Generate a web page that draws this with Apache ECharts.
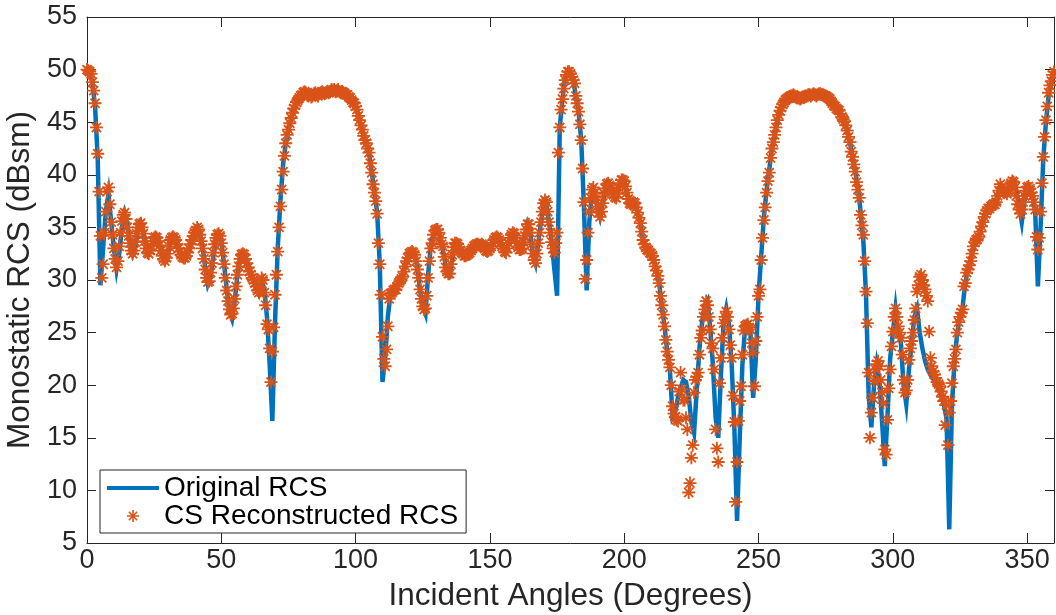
<!DOCTYPE html>
<html>
<head>
<meta charset="utf-8">
<script src="https://cdn.jsdelivr.net/npm/echarts@6/dist/echarts.min.js"></script>
<style>
html,body{margin:0;padding:0;background:#fff;}
#chart{width:1056px;height:615px;}
</style>
</head>
<body>
<div id="chart"></div>
<script>
// ---- data ----
const ORIGINAL_START = 0;     // degrees
const ORIGINAL_STEP = 1;      // degrees between samples of the original RCS
const originalRCS = [
  50, 49.8, 48.8, 46.5, 41.5, 29.5, 33, 36.5, 38.2, 35.5,
  33, 31, 32.5, 35, 36.3, 35.3, 33.5, 32.5, 33.3, 34.8,
  35.4, 34.5, 33.2, 32.5, 33, 33.8, 34.1, 33.5, 32.5, 31.8,
  32.3, 33.5, 34.1, 33.8, 33, 32.5, 32.1, 32.2, 32.8, 33.6,
  34.3, 34.8, 34.4, 33.2, 31.2, 29.6, 30.3, 32.2, 33.8, 34.3,
  33.6, 31.6, 29.2, 27, 26.3, 28, 30.5, 32, 32.5, 32.1,
  31.3, 30.6, 30.1, 29.6, 28.8, 29.8, 29.2, 26.5, 22, 16.6,
  26, 33, 37.5, 41, 43, 44.3, 45.3, 46.2, 46.8, 47.3,
  47.6, 47.8, 47.7, 47.6, 47.5, 47.7, 47.6, 47.8, 47.9, 47.8,
  47.9, 48, 48, 48, 47.9, 47.8, 47.8, 47.6, 47.3, 46.9,
  46.6, 45.6, 44.6, 43.7, 42.9, 42, 40.3, 38.3, 36.5, 31.5,
  20.3, 22.5, 26.5, 28.7, 29, 29.2, 29.7, 30.2, 31, 32,
  32.5, 32.7, 32.4, 31.2, 29, 27.5, 26.8, 30.5, 33.3, 34.3,
  34.8, 34.5, 33.4, 32.2, 30.5, 30.4, 32, 33.5, 33.4, 32.8,
  32.4, 32.3, 32.5, 32.8, 33.2, 33.4, 33.3, 33.3, 33, 32.7,
  33, 33.5, 34, 34, 33.5, 33, 32.7, 33.5, 34.3, 34.4,
  33.5, 32.9, 33, 34.2, 35.3, 34.5, 32.5, 31.6, 33.5, 35.5,
  37.3, 37.4, 35.5, 33.6, 31, 28.5, 44.5, 47.2, 49.2, 49.8,
  49.6, 49, 47.5, 46, 43.3, 37, 29, 35.5, 38.5, 38.3,
  37, 36, 37.3, 38.7, 39.2, 38.7, 38.1, 37.8, 38.8, 39.5,
  39.4, 38.3, 37.3, 37.3, 37.3, 36.4, 35.4, 33.8, 33.1, 32.8,
  32.5, 31.9, 30.9, 29.7, 27.6, 25.6, 23.2, 21.5, 17, 17.5,
  18.8, 19.8, 20.5, 20.3, 19, 16.5, 15.5, 19.5, 23.5, 26,
  27.5, 28, 25.5, 22, 17, 15, 21, 26, 27.3, 25.8,
  22, 16, 7.1, 15, 22, 25.5, 25.8, 25, 18.8, 22.5,
  28.5, 32.3, 36, 38.5, 40.5, 42.5, 43.8, 45.1, 46.1, 46.7,
  47.1, 47.3, 47.5, 47.6, 47.4, 47.3, 47.3, 47.4, 47.5, 47.6,
  47.6, 47.6, 47.6, 47.7, 47.6, 47.5, 47.3, 47, 46.6, 46.3,
  46.1, 45.5, 45.1, 44.2, 43.1, 41.7, 40.3, 38.8, 36.5, 33.8,
  28.7, 19, 16, 20, 22, 20.5, 16.5, 12.3, 17, 22.5,
  25, 27.3, 25, 24, 20, 18.2, 21.5, 24, 26.5, 27.3,
  25, 23.5, 22.3, 21.5, 21, 20.6, 20.2, 19.6, 19, 18.2,
  16.8, 6.3, 18, 22.5, 25, 26.5, 27.5, 29.8, 31, 32,
  33.2, 33.8, 34.1, 35.1, 36, 36.6, 36.8, 37.1, 37.2, 38,
  38.8, 38.5, 38.3, 38.5, 39, 39.3, 38.5, 37, 35.5, 37.5,
  38.7, 38.7, 38, 36.5, 29.4, 35, 41.5, 45, 47.5, 48.9,
  49.9
];

const RECON_START = 0;        // degrees
const RECON_STEP = 0.5;       // degrees between reconstructed samples
const reconstructedRCS = [
  50, 49.9, 49.8, 49.6, 48.8, 48, 46.8, 44.5, 42, 38.4, 34.2, 30.2, 31.5, 34.5, 36.5, 38.4, 38.8, 37.2, 35.5, 34.3,
  33, 32, 31.2, 31.8, 33.2, 34.5, 35.6, 36.2, 36.4, 35.8, 35, 34.2, 33.5, 32.8, 32.5, 32.8, 33.6, 34.4, 35, 35.3,
  35.4, 35, 34.4, 33.7, 33, 32.6, 32.5, 32.8, 33.2, 33.7, 34, 34.1, 34, 33.7, 33.3, 32.8, 32.3, 32, 31.8, 32.1,
  32.5, 33.2, 33.8, 34, 34.1, 34, 33.8, 33.4, 33, 32.7, 32.4, 32.2, 32.1, 32.1, 32.3, 32.6, 33, 33.4, 33.8, 34.2,
  34.5, 34.7, 35, 34.8, 34.3, 33.7, 33, 32, 31, 30.2, 29.8, 29.9, 30.7, 31.6, 32.6, 33.4, 34, 34.3, 34.4, 34.2,
  33.5, 32.6, 31.5, 30.2, 29, 28, 27.2, 26.7, 26.8, 27.3, 28.2, 29.4, 30.5, 31.3, 32, 32.4, 32.5, 32.4, 32, 31.6,
  31.2, 30.8, 30.5, 30.2, 30, 29.7, 29.4, 29, 28.8, 29.3, 30.2, 30, 28.8, 27.6, 25.8, 25.3, 23.5, 20.3, 23.2, 25.5,
  28.6, 30.5, 32.7, 35, 37, 38.6, 40.3, 41.8, 43, 43.8, 44.3, 44.9, 45.4, 45.9, 46.3, 46.6, 46.9, 47.1, 47.3, 47.5,
  47.6, 47.8, 47.9, 47.8, 47.6, 47.5, 47.6, 47.4, 47.5, 47.7, 47.8, 47.6, 47.5, 47.7, 47.8, 47.9, 47.8, 47.7, 47.8, 47.9,
  47.8, 47.9, 48.1, 48, 48.1, 47.9, 48, 48.1, 47.9, 47.8, 47.9, 47.8, 47.7, 47.6, 47.6, 47.4, 47.3, 47.1, 46.9, 46.8,
  46.5, 46.2, 45.6, 45.2, 44.7, 44.3, 43.7, 43.3, 43, 42.5, 42.1, 41.1, 40.2, 39.1, 38.3, 37.5, 36.3, 33.5, 31.5, 28.6,
  24.6, 22.5, 21.8, 23.4, 25.6, 28.2, 28.7, 28.8, 29, 29.1, 29.1, 29.4, 29.7, 29.9, 30.1, 30.3, 30.8, 31.3, 31.8, 32.1,
  32.5, 32.6, 32.7, 32.6, 32.4, 31.8, 31, 30.2, 29.1, 28.2, 27.5, 27.2, 27.3, 28.5, 30.2, 31.8, 33, 33.5, 34.3, 34.7,
  34.8, 34.8, 34.5, 34, 33.4, 33.2, 32.2, 31.2, 30.8, 30.6, 30.6, 31.5, 32.4, 33.1, 33.5, 33.5, 33.4, 33.1, 32.8, 32.6,
  32.5, 32.3, 32.3, 32.4, 32.5, 32.6, 32.8, 33, 33.2, 33.3, 33.4, 33.4, 33.3, 33.3, 33.4, 33.3, 33, 32.8, 32.7, 32.8,
  33, 33.2, 33.5, 33.8, 34, 34.1, 34, 33.8, 33.5, 33.2, 33, 32.7, 32.6, 33, 33.5, 34, 34.3, 34.5, 34.4, 34,
  33.5, 33.1, 32.9, 32.9, 33, 33.6, 34.2, 34.8, 35.3, 35.3, 34.5, 33.4, 32.5, 31.9, 31.6, 32.5, 33.5, 34.5, 35.5, 36.5,
  37.3, 37.6, 37.4, 36.5, 35.5, 34.5, 33.6, 33, 32.6, 33.5, 34.5, 42.1, 44.5, 46.2, 47.2, 48.2, 49, 49.5, 49.8, 49.8,
  49.6, 49.3, 49, 48.7, 47.5, 46.8, 46, 44.8, 43.3, 40.6, 37.4, 30.1, 31.9, 34.5, 36.5, 37.8, 38.6, 38.8, 38.3, 37.6,
  37, 36.4, 36, 36.5, 37.3, 38.2, 38.7, 39.1, 39.2, 39, 38.7, 38.4, 38.1, 37.9, 37.8, 38.2, 38.8, 39.2, 39.5, 39.5,
  39.4, 38.9, 38.3, 37.7, 37.3, 37.2, 37.3, 37.4, 37.3, 36.9, 36.4, 35.9, 35.4, 34.6, 33.8, 33.4, 33.1, 32.9, 32.8, 32.6,
  32.5, 32.3, 31.9, 31.3, 30.9, 30.4, 29.7, 28.5, 27.6, 26.7, 25.6, 24.3, 23.2, 22.4, 21.7, 20, 18, 17.3, 17, 16.7,
  16.6, 19.4, 21.2, 19.6, 18.6, 18.6, 16.9, 15.8, 9.8, 10.7, 13.1, 14.3, 19.3, 20.5, 20.8, 21.2, 22.9, 24.5, 25.2, 26.5,
  27.2, 28, 27.6, 26.5, 25.3, 24, 23.5, 21.5, 15.8, 14, 12.7, 20.2, 22.6, 24.5, 25.9, 26.5, 27, 26.5, 25.3, 23.8,
  22.6, 19, 16.5, 8.9, 12.7, 16.6, 18.5, 19.9, 22.9, 25.2, 25.6, 25.7, 25.8, 25.5, 25.3, 24, 23.1, 19.9, 24.2, 26.5,
  28.5, 29.1, 31.9, 34, 35.7, 36.9, 38.3, 39.4, 40.2, 41.6, 42.5, 43.1, 43.8, 44.5, 45.2, 45.7, 46.1, 46.4, 46.7, 46.9,
  47.1, 47.2, 47.3, 47.4, 47.5, 47.5, 47.6, 47.5, 47.4, 47.3, 47.3, 47.2, 47.3, 47.4, 47.4, 47.5, 47.5, 47.6, 47.6, 47.5,
  47.6, 47.7, 47.6, 47.5, 47.6, 47.7, 47.7, 47.6, 47.6, 47.5, 47.5, 47.4, 47.3, 47.2, 47, 46.8, 46.6, 46.5, 46.3, 46.2,
  46.1, 45.8, 45.5, 45.3, 45.1, 44.7, 44.2, 43.6, 43.1, 42.2, 41.7, 41, 40.3, 39.3, 38.6, 37.8, 36.2, 35.2, 34.3, 31.8,
  28.9, 25.9, 21.2, 15, 17.4, 18.8, 20.4, 21.5, 22, 22.3, 21.8, 20.5, 19.3, 18.3, 13.9, 13.4, 16.7, 19.7, 21.5, 23.7,
  25.1, 26.5, 27.3, 26.5, 25.6, 25, 24.5, 22.9, 20.5, 19.3, 19.5, 20.5, 22.4, 23.5, 24.2, 25, 26.2, 27.3, 28.9, 29.5,
  30.3, 30.5, 30, 29.5, 29.1, 28.5, 28, 25.1, 22.6, 21.8, 21.3, 21, 20.7, 20.3, 20.1, 19.9, 19.4, 18.9, 18.5, 16.2,
  18.1, 14.3, 17.4, 18.5, 20.2, 21.8, 22.5, 23.4, 25, 26, 26.5, 26.9, 27.2, 29.4, 29.7, 30.7, 31, 31.4, 31.8, 32.5,
  33.2, 33.6, 33.8, 33.9, 34.1, 34.6, 35.1, 35.5, 36, 36.3, 36.6, 36.8, 36.8, 37, 37.1, 37.2, 37.2, 37.4, 38, 38.5,
  39.1, 38.8, 38.5, 38.3, 38.4, 38.2, 38.5, 38.9, 39.2, 39.4, 39.3, 38.8, 38, 37.2, 36.7, 36.3, 36.7, 37.4, 38, 38.5,
  38.8, 38.9, 38.7, 38.3, 38, 37.4, 36.7, 34.1, 32.9, 34, 36.5, 39.2, 41.7, 43.6, 45.2, 46.5, 47.8, 48.5, 48.9, 49.5,
  49.8
];

const seriesNames = ['Original RCS', 'CS Reconstructed RCS'];
const xTitle = 'Incident Angles (Degrees)';
const yTitle = 'Monostatic RCS (dBsm)';
const xRange = [0, 360];
const xTickStep = 50;
const yRange = [5, 55];
const yTickStep = 5;

// ---- build series pairs ----
const originalPairs = originalRCS.map((v, i) => [ORIGINAL_START + i * ORIGINAL_STEP, v]);
const reconPairs = reconstructedRCS.map((v, i) => [RECON_START + i * RECON_STEP, v]);

const AXIS = '#262626';
const BLUE = '#0072BD';
const ORANGE = '#D95319';
const FONT = '"Liberation Sans", Arial, Helvetica, sans-serif';
const STAR = 'path://M0,5L10,5M5,0L5,10M1.5,1.5L8.5,8.5M8.5,1.5L1.5,8.5';

const baseX = {
  type: 'value', min: xRange[0], max: xRange[1], interval: xTickStep,
  axisLine: { show: true, onZero: false, lineStyle: { color: AXIS, width: 1 } },
  axisTick: { show: true, inside: true, length: 10, lineStyle: { color: AXIS, width: 1 } },
  splitLine: { show: false }
};
const baseY = {
  type: 'value', min: yRange[0], max: yRange[1], interval: yTickStep,
  axisLine: { show: true, onZero: false, lineStyle: { color: AXIS, width: 1 } },
  axisTick: { show: true, inside: true, length: 9, lineStyle: { color: AXIS, width: 1 } },
  splitLine: { show: false }
};

const chart = echarts.init(document.getElementById('chart'), null, { renderer: 'canvas' });
chart.setOption({
  animation: false,
  backgroundColor: '#ffffff',
  textStyle: { fontFamily: FONT },
  grid: { left: 87, right: 2, top: 17, bottom: 72, containLabel: false, outerBoundsMode: 'none' },
  xAxis: [
    Object.assign({}, baseX, {
      position: 'bottom',
      name: xTitle, nameLocation: 'middle', nameGap: 37,
      nameTextStyle: { fontSize: 31.5, color: AXIS, fontFamily: FONT },
      axisLabel: { fontSize: 27, color: AXIS, margin: 4, showMaxLabel: false, fontFamily: FONT }
    }),
    Object.assign({}, baseX, { position: 'top', axisLabel: { show: false } })
  ],
  yAxis: [
    Object.assign({}, baseY, {
      position: 'left',
      name: yTitle, nameLocation: 'middle', nameGap: 44,
      nameTextStyle: { fontSize: 31.5, color: AXIS, fontFamily: FONT },
      axisLabel: { fontSize: 27, color: AXIS, margin: 10, fontFamily: FONT }
    }),
    Object.assign({}, baseY, { position: 'right', axisLabel: { show: false } })
  ],
  legend: {
    orient: 'vertical', left: 100, top: 470,
    itemWidth: 52, itemHeight: 12, itemGap: 0,
    padding: [4, 8, 3, 7],
    borderColor: AXIS, borderWidth: 1, backgroundColor: '#ffffff',
    selectedMode: false,
    textStyle: { fontSize: 28, color: '#000000', lineHeight: 27, fontFamily: FONT },
    data: [
      { name: seriesNames[0], icon: 'path://M0,0L52,0L52,4L0,4Z',
        itemStyle: { color: BLUE, borderWidth: 0 } },
      { name: seriesNames[1], icon: STAR,
        itemStyle: { color: 'rgba(0,0,0,0)', borderColor: ORANGE, borderWidth: 1.6 } }
    ]
  },
  series: [
    {
      name: seriesNames[0], type: 'line', data: originalPairs,
      xAxisIndex: 0, yAxisIndex: 0,
      showSymbol: false, symbol: 'none', smooth: false, sampling: null,
      lineStyle: { color: BLUE, width: 4.5, join: 'miter', miterLimit: 10 },
      itemStyle: { color: BLUE },
      emphasis: { disabled: true }, silent: true, z: 2
    },
    {
      name: seriesNames[1], type: 'scatter', data: reconPairs,
      xAxisIndex: 0, yAxisIndex: 0,
      symbol: STAR, symbolSize: 13,
      itemStyle: { color: 'rgba(0,0,0,0)', borderColor: ORANGE, borderWidth: 1.8, opacity: 1 },
      emphasis: { disabled: true }, silent: true, z: 3
    }
  ]
});
</script>
</body>
</html>
